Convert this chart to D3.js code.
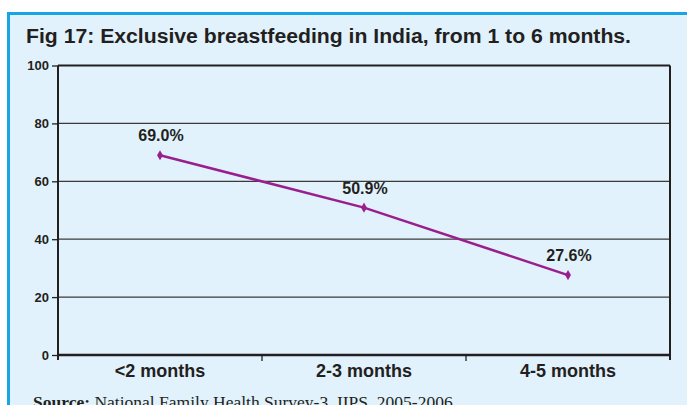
<!DOCTYPE html>
<html>
<head>
<meta charset="utf-8">
<script src="https://cdn.jsdelivr.net/npm/d3@7"></script>
<style>
  body { margin: 0; background: #fff; }
  svg { display: block; }
</style>
</head>
<body>
<svg id="chart" width="687" height="405"></svg>
<script>
// data
const categories = ["<2 months", "2-3 months", "4-5 months"];
const values = [69.0, 50.9, 27.6];
const valueLabels = ["69.0%", "50.9%", "27.6%"];
const yTicks = [0, 20, 40, 60, 80, 100];

const svg = d3.select("#chart");

// panel background + blue frame
svg.append("rect")
  .attr("x", 8.5).attr("y", 13.5)
  .attr("width", 700).attr("height", 420)
  .attr("fill", "#e1f2fc")
  .attr("stroke", "#16a6e6")
  .attr("stroke-width", 3);

svg.append("text")
  .attr("x", 26).attr("y", 43)
  .attr("font-family", "Liberation Sans, Arial, sans-serif")
  .attr("font-weight", "bold")
  .attr("font-size", 20)
  .attr("fill", "#231f20")
  .attr("textLength", 605)
  .attr("lengthAdjust", "spacingAndGlyphs")
  .text("Fig 17: Exclusive breastfeeding in India,  from 1 to 6 months.");

const plotL = 58, plotR = 670, plotT = 65.5, plotB = 355;

const x = d3.scaleBand().domain(categories).range([plotL, plotR]);
const y = d3.scaleLinear().domain([0, 100]).range([plotB, plotT]);

// gridlines
svg.append("g")
  .selectAll("line")
  .data(yTicks.filter(d => d > 0))
  .join("line")
  .attr("x1", plotL).attr("x2", plotR)
  .attr("y1", d => y(d)).attr("y2", d => y(d))
  .attr("stroke", d => d == 100 ? "#231f20" : "#3a3a3a")
  .attr("stroke-width", d => d == 100 ? 2 : 1.3);

// right frame line
svg.append("line")
  .attr("x1", plotR).attr("x2", plotR)
  .attr("y1", plotT).attr("y2", plotB + 5)
  .attr("stroke", "#231f20").attr("stroke-width", 2);

// y axis
const yAxis = svg.append("g")
  .attr("transform", `translate(${plotL},0)`)
  .call(d3.axisLeft(y).tickValues(yTicks).tickSize(6).tickPadding(3));
yAxis.select(".domain").attr("stroke", "#231f20").attr("stroke-width", 2)
  .attr("d", `M0,${plotT}V${plotB + 5}`);
yAxis.selectAll(".tick line").attr("stroke", "#231f20").attr("stroke-width", 1.3);
yAxis.selectAll("text")
  .attr("font-family", "Liberation Sans, Arial, sans-serif")
  .attr("font-weight", "bold").attr("font-size", 13).attr("fill", "#231f20");

// x axis
const xAxis = svg.append("g")
  .attr("transform", `translate(0,${plotB})`)
  .call(d3.axisBottom(x).tickSize(0).tickPadding(9));
xAxis.select(".domain").attr("stroke", "#231f20").attr("stroke-width", 2.5)
  .attr("d", `M${plotL},0H${plotR}`);
xAxis.selectAll("text")
  .attr("font-family", "Liberation Sans, Arial, sans-serif")
  .attr("font-weight", "bold").attr("font-size", 18).attr("fill", "#231f20");

// separators between categories
svg.append("g")
  .selectAll("line")
  .data(categories.slice(1))
  .join("line")
  .attr("x1", d => x(d)).attr("x2", d => x(d))
  .attr("y1", plotB).attr("y2", plotB + 6)
  .attr("stroke", "#231f20").attr("stroke-width", 1.3);

// the line
const cx = d => x(d) + x.bandwidth() / 2;
const pts = categories.map((c, i) => [cx(c), y(values[i])]);

svg.append("path")
  .datum(pts)
  .attr("d", d3.line())
  .attr("fill", "none")
  .attr("stroke", "#9a1f8e")
  .attr("stroke-width", 2.5);

svg.append("g")
  .selectAll("path")
  .data(pts)
  .join("path")
  .attr("transform", d => `translate(${d[0]},${d[1]})`)
  .attr("d", d3.symbol(d3.symbolDiamond, 30))
  .attr("fill", "#9a1f8e");

svg.append("g")
  .selectAll("text")
  .data(pts)
  .join("text")
  .attr("x", d => d[0] + 1)
  .attr("y", d => d[1] - 14)
  .attr("text-anchor", "middle")
  .attr("font-family", "Liberation Sans, Arial, sans-serif")
  .attr("font-weight", "bold")
  .attr("font-size", 16)
  .attr("fill", "#231f20")
  .text((d, i) => valueLabels[i]);

// source note (cut off at bottom like the original)
const src = svg.append("text")
  .attr("x", 33).attr("y", 408)
  .attr("font-family", "Liberation Serif, Times New Roman, serif")
  .attr("font-size", 17.5)
  .attr("fill", "#231f20");
src.append("tspan").attr("font-weight", "bold").text("Source:");
src.append("tspan").text(" National Family Health Survey-3, IIPS, 2005-2006");
</script>
</body>
</html>
